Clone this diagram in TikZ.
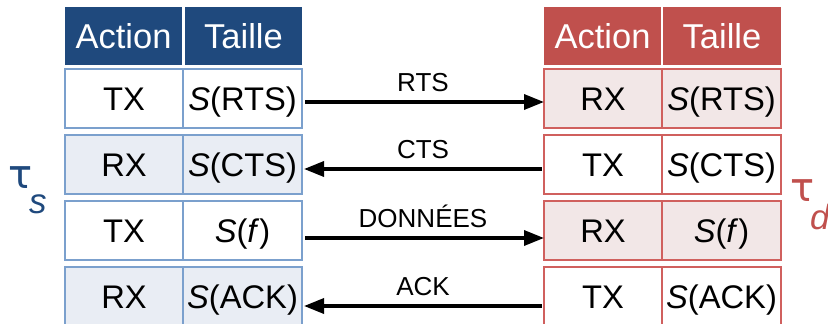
\documentclass[tikz,border=0pt]{standalone}
\usepackage{fontspec}
\setmainfont{Liberation Sans}
\newfontfamily\taufam{DejaVu Sans}
\usetikzlibrary{arrows.meta}
\definecolor{bhead}{HTML}{1F497D}
\definecolor{bline}{HTML}{7BA0CD}
\definecolor{bfill}{HTML}{E9EDF4}
\definecolor{rhead}{HTML}{C0504D}
\definecolor{rline}{HTML}{D0605E}
\definecolor{rfill}{HTML}{F2E7E7}
\begin{document}
\begin{tikzpicture}[x=1pt,y=-1pt,
  head/.style={minimum height=58pt, inner sep=0pt, outer sep=0pt, text=white,
    font=\fontsize{34.5}{38}\selectfont, text height=24.7pt, text depth=0pt},
  cell/.style={minimum height=59pt, inner sep=0pt, outer sep=0pt, line width=1.4pt,
    font=\fontsize{32.7}{36}\selectfont, text height=23.4pt, text depth=0pt},
  bcell/.style={cell, draw=bline},
  rcell/.style={cell, draw=rline},
  arr/.style={line width=3.4pt, -{Triangle[length=20pt,width=15pt]}},
  lbl/.style={font=\fontsize{26}{28}\selectfont, inner sep=0pt, text height=18.6pt, text depth=0pt, anchor=south, yshift=8.5pt},
  taufont/.style={font=\taufam\fontsize{40}{44}\selectfont, inner sep=0pt, anchor=base west},
  subfont/.style={font=\fontsize{35}{38}\selectfont\itshape, inner sep=0pt, anchor=base west}
]
\useasboundingbox (0,0) rectangle (828,324);

% left table
\node[head, fill=bhead, minimum width=117pt] (lha) at (123.5,36) {Action};
\node[head, fill=bhead, minimum width=117pt] (lht) at (243.5,36) {Taille};
\node[bcell, fill=white, minimum width=118pt] (l1a) at (124,98.5) {TX};
\node[bcell, fill=white, minimum width=119pt] (l1t) at (242.5,98.5) {\textit{S}(RTS)};
\node[bcell, fill=bfill, minimum width=118pt] (l2a) at (124,164.5) {RX};
\node[bcell, fill=bfill, minimum width=119pt] (l2t) at (242.5,164.5) {\textit{S}(CTS)};
\node[bcell, fill=white, minimum width=118pt] (l3a) at (124,230.5) {TX};
\node[bcell, fill=white, minimum width=119pt] (l3t) at (242.5,230.5) {\textit{S}(\textit{f})};
\node[bcell, fill=bfill, minimum width=118pt] (l4a) at (124,296.5) {RX};
\node[bcell, fill=bfill, minimum width=119pt] (l4t) at (242.5,296.5) {\textit{S}(ACK)};

% right table
\node[head, fill=rhead, minimum width=117pt] (rha) at (602.5,36) {Action};
\node[head, fill=rhead, minimum width=118pt] (rht) at (722,36) {Taille};
\node[rcell, fill=rfill, minimum width=118pt] (r1a) at (603,98.5) {RX};
\node[rcell, fill=rfill, minimum width=119pt] (r1t) at (721.5,98.5) {\textit{S}(RTS)};
\node[rcell, fill=white, minimum width=118pt] (r2a) at (603,164.5) {TX};
\node[rcell, fill=white, minimum width=119pt] (r2t) at (721.5,164.5) {\textit{S}(CTS)};
\node[rcell, fill=rfill, minimum width=118pt] (r3a) at (603,230.5) {RX};
\node[rcell, fill=rfill, minimum width=119pt] (r3t) at (721.5,230.5) {\textit{S}(\textit{f})};
\node[rcell, fill=white, minimum width=118pt] (r4a) at (603,296.5) {TX};
\node[rcell, fill=white, minimum width=119pt] (r4t) at (721.5,296.5) {\textit{S}(ACK)};

% arrows
\draw[arr, shorten <=3pt] ([yshift=-3.5pt]l1t.east) -- node[lbl] {RTS} ([yshift=-3.5pt]r1a.west);
\draw[arr, shorten <=2pt, shorten >=2pt] ([yshift=-4.5pt]r2a.west) -- node[lbl] {CTS} ([yshift=-4.5pt]l2t.east);
\draw[arr, shorten <=3pt] ([yshift=-7.5pt]l3t.east) -- node[lbl] {DONNÉES} ([yshift=-7.5pt]r3a.west);
\draw[arr, shorten <=2pt, shorten >=2pt] ([yshift=-9.5pt]r4a.west) -- node[lbl] {ACK} ([yshift=-9.5pt]l4t.east);

% tau labels
\node[taufont, text=bhead] (taus) at (8,188) {τ};
\node[subfont, text=bhead] (subs) at (29,213) {s};
\node[taufont, text=rhead] (taud) at (790,201) {τ};
\node[subfont, text=rhead] (subd) at (810,229) {d};
\end{tikzpicture}
\end{document}
